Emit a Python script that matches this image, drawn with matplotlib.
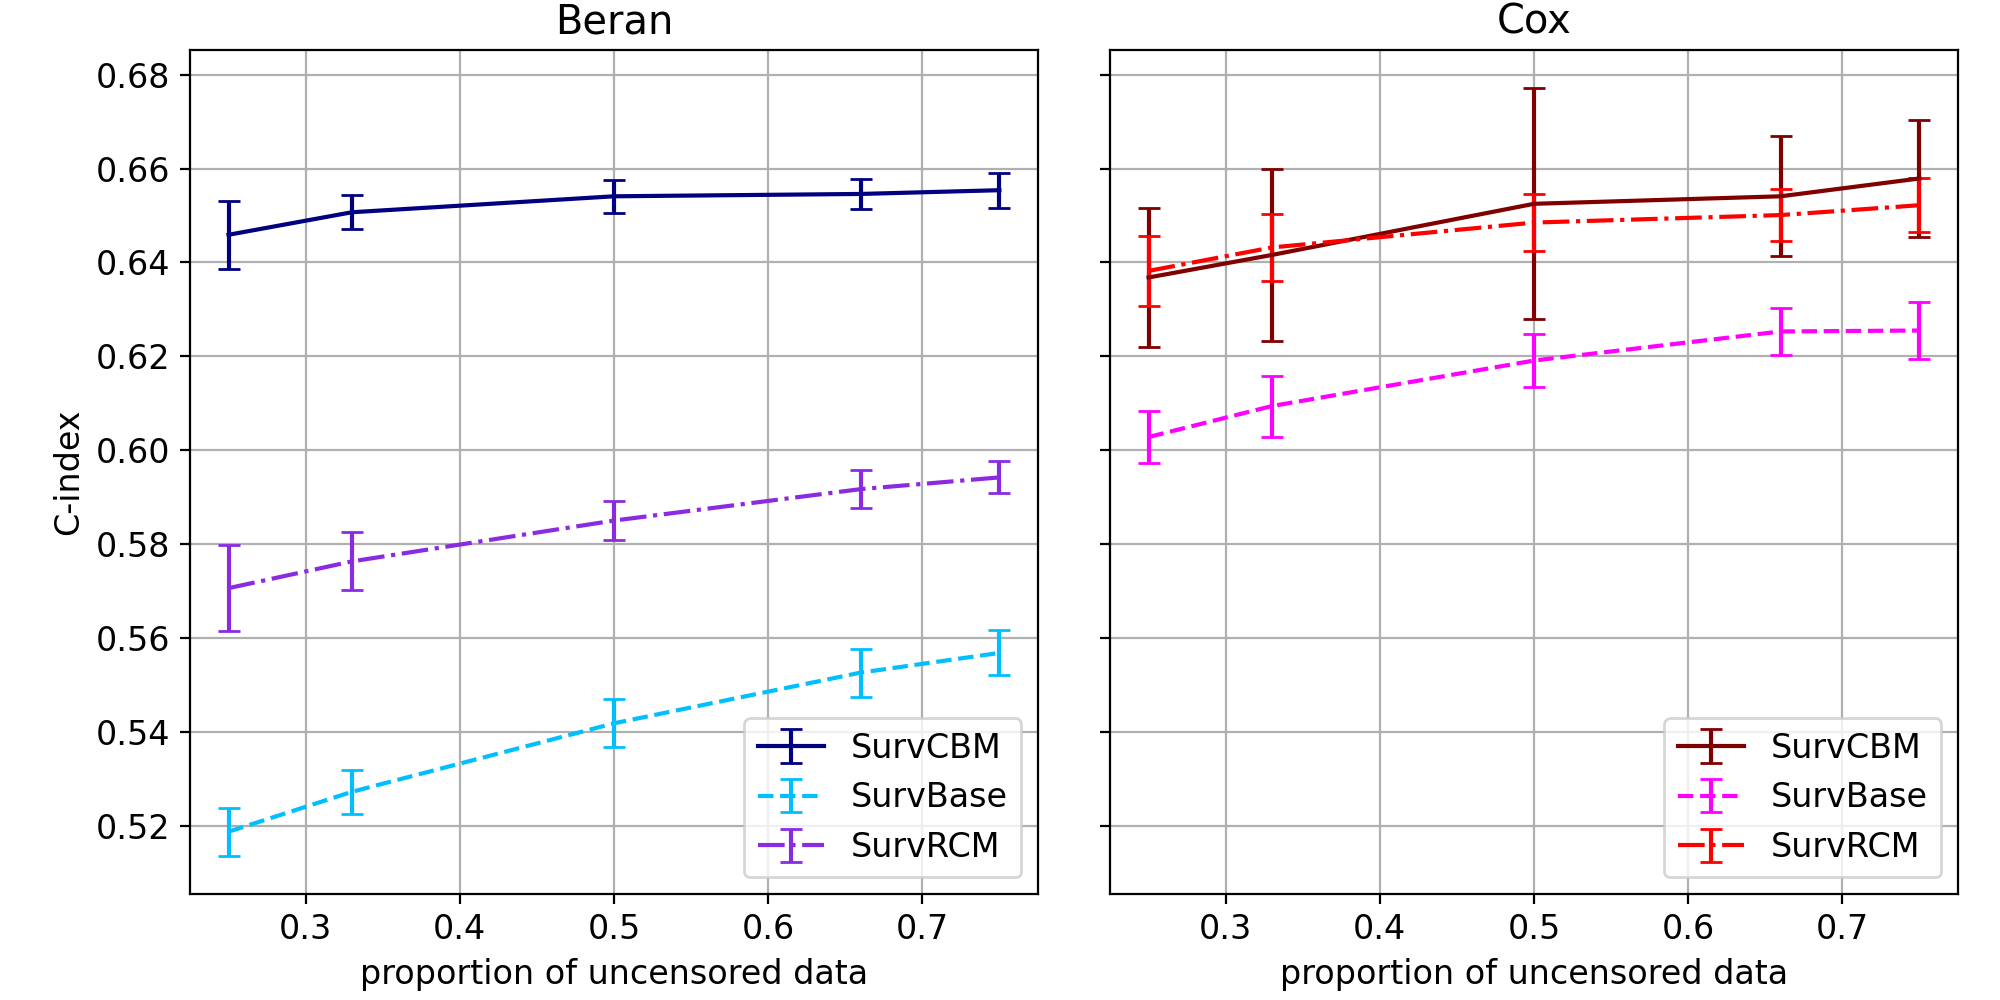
import matplotlib
matplotlib.use('Agg')
import matplotlib.pyplot as plt


x = [0.25, 0.33, 0.5, 0.66, 0.75]

# Beran
beran_cbm = [0.6459, 0.6507, 0.6541, 0.6546, 0.6554]
beran_cbm_err = [0.0073, 0.0036, 0.0035, 0.0032, 0.0037]
beran_base = [0.5187, 0.5272, 0.5418, 0.5526, 0.5568]
beran_base_err = [0.0051, 0.0047, 0.0051, 0.0051, 0.0048]
beran_rcm = [0.5706, 0.5763, 0.5850, 0.5917, 0.5942]
beran_rcm_err = [0.0091, 0.0062, 0.0042, 0.0040, 0.0034]

# Cox
cox_cbm = [0.6368, 0.6416, 0.6525, 0.6541, 0.6579]
cox_cbm_err = [0.0148, 0.0183, 0.0246, 0.0128, 0.0125]
cox_base = [0.6028, 0.6094, 0.6191, 0.6253, 0.6255]
cox_base_err = [0.0055, 0.0065, 0.0056, 0.0050, 0.0060]
cox_rcm = [0.6382, 0.6432, 0.6485, 0.6501, 0.6522]
cox_rcm_err = [0.0074, 0.0072, 0.0061, 0.0056, 0.0057]

labels = ['SurvCBM', 'SurvBase', 'SurvRCM']
styles = ['-', '--', '-.']

plt.rcParams['font.size'] = 12

fig, axes = plt.subplots(1, 2, figsize=(10, 5), dpi=200, sharey=True)

panels = [
    ('Beran', [beran_cbm, beran_base, beran_rcm],
     [beran_cbm_err, beran_base_err, beran_rcm_err],
     ['navy', 'deepskyblue', 'blueviolet']),
    ('Cox', [cox_cbm, cox_base, cox_rcm],
     [cox_cbm_err, cox_base_err, cox_rcm_err],
     ['maroon', 'magenta', 'red']),
]

for ax, (title, means, errs, colors) in zip(axes, panels):
    for m, e, c, ls, lab in zip(means, errs, colors, styles, labels):
        ax.errorbar(x, m, yerr=e, color=c, linestyle=ls, capsize=4, label=lab)
    ax.set_title(title)
    ax.set_xlabel('proportion of uncensored data')
    ax.grid(True)
    ax.legend(loc='lower right')

axes[0].set_ylabel('C-index')

plt.subplots_adjust(left=0.095, right=0.979, top=0.95, bottom=0.106, wspace=0.085)
plt.savefig('out.png')
